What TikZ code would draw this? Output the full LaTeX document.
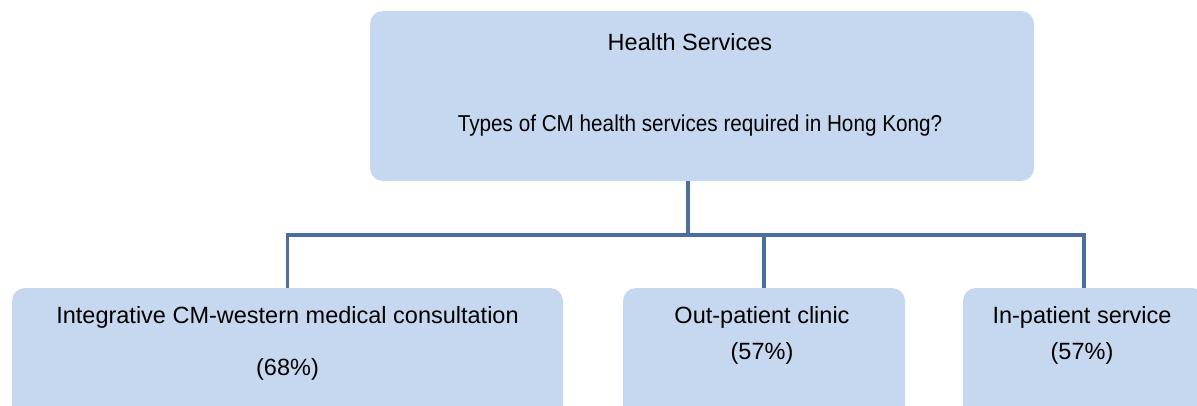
\documentclass[tikz,border=0pt]{standalone}
\usepackage{fontspec}
\setmainfont{Liberation Sans}
\begin{document}
\begin{tikzpicture}[x=1pt,y=-1pt,
  box/.style={draw=none,fill=boxfill,rounded corners=13pt,inner sep=0pt},
  conn/.style={draw=linecol,line width=3.5pt},
  lbl/.style={inner sep=0pt,anchor=base},
  bottxt/.style={lbl,font=\fontsize{23.5}{26}\selectfont}]
\definecolor{boxfill}{HTML}{C6D8F0}
\definecolor{linecol}{HTML}{4A6E9E}
\useasboundingbox (0,0) rectangle (1197,405);
\clip (0,0) rectangle (1197,405);
% boxes
\node[box,minimum width=664pt,minimum height=170pt] (top) at (702,96) {};
\node[box,minimum width=551pt,minimum height=140pt] (b1) at (287.5,358) {};
\node[box,minimum width=282pt,minimum height=140pt] (b2) at (764,358) {};
\node[box,minimum width=242pt,minimum height=140pt] (b3) at (1084,358) {};
% texts
\node[lbl,font=\fontsize{23.5}{26}\selectfont] (t1) at (690,50) {Health Services};
\node[lbl,font=\fontsize{23}{26}\selectfont] (t2) at (700,131) {\scalebox{0.9}[1]{Types of CM health services required in Hong Kong?}};
\node[bottxt] (l1) at (287.5,323) {Integrative CM-western medical consultation};
\node[bottxt] (p1) at (287.5,375) {(68\%)};
\node[bottxt] (l2) at (762,323) {Out-patient clinic};
\node[bottxt] (p2) at (762,359) {(57\%)};
\node[bottxt] (l3) at (1082,323) {In-patient service};
\node[bottxt] (p3) at (1082,359) {(57\%)};
% connectors
\coordinate (j) at (688,235);
\draw[conn] (top.south -| j) -- (j);
\draw[conn] (b1.north) -- (b1.north |- j) -- (b3.north |- j) -- (b3.north);
\draw[conn] (b2.north) -- (b2.north |- j);
\end{tikzpicture}
\end{document}
